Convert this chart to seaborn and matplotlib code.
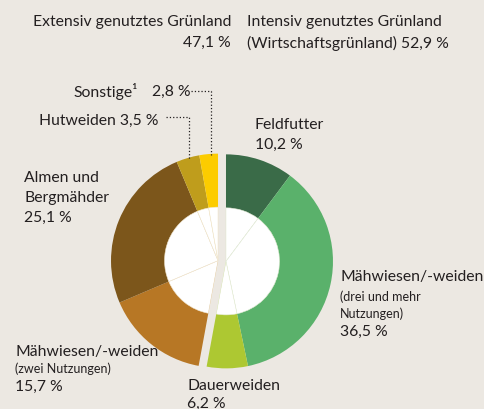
import math
import matplotlib
matplotlib.use("Agg")
import matplotlib.pyplot as plt
import seaborn as sns

# ---------------- DATA ----------------
intensive_labels = ["Feldfutter", "Mähwiesen/-weiden (drei und mehr Nutzungen)", "Dauerweiden"]
intensive_values = [10.2, 36.5, 6.2]
extensive_labels = ["Mähwiesen/-weiden (zwei Nutzungen)", "Almen und Bergmähder", "Hutweiden", "Sonstige"]
extensive_values = [15.7, 25.1, 3.5, 2.8]
group_totals = [47.1, 52.9]

intensive_colors = ["#3a6b48", "#5ab16b", "#adc832"]
extensive_colors = ["#b77725", "#7c561b", "#bf9d1c", "#fccc00"]

BG = "#ece8e2"
TXT = "#231f20"

# ---------------- STYLE ----------------
sns.set_theme(style="white", rc={"figure.facecolor": BG, "axes.facecolor": BG})
plt.rcParams["font.family"] = ["Lato", "DejaVu Sans"]

fig = plt.figure(figsize=(4.84, 4.10), dpi=100)
ax = fig.add_axes([0, 0, 1, 1])

H = 410
cx, cy = 222, H - 262
R = 107
gap = 4

int_frac = sum(intensive_values) / 100
ang_int = math.radians(90 - int_frac * 360 / 2)
ang_ext = ang_int + math.pi
c_int = (cx + gap * math.cos(ang_int), cy + gap * math.sin(ang_int))
c_ext = (cx + gap * math.cos(ang_ext), cy + gap * math.sin(ang_ext))
start_ext = 90 - int_frac * 360

# ---------------- DONUT ----------------
ax.pie([v / 100 for v in intensive_values], colors=intensive_colors, startangle=90,
       counterclock=False, normalize=False, radius=R, center=c_int,
       wedgeprops=dict(linewidth=0), frame=True)
ax.pie([v / 100 for v in extensive_values], colors=extensive_colors, startangle=start_ext,
       counterclock=False, normalize=False, radius=R, center=c_ext,
       wedgeprops=dict(linewidth=0), frame=True)

# white inner part with faint wedge lines
ax.pie([v / 100 for v in intensive_values], colors=["white"] * 3, startangle=90,
       counterclock=False, normalize=False, radius=R * 0.5, center=c_int,
       wedgeprops=dict(linewidth=0.4, edgecolor="#e6ecd8"), frame=True)
ax.pie([v / 100 for v in extensive_values], colors=["white"] * 4, startangle=start_ext,
       counterclock=False, normalize=False, radius=R * 0.5, center=c_ext,
       wedgeprops=dict(linewidth=0.4, edgecolor="#f1e6cf"), frame=True)

ax.set_xlim(0, 484)
ax.set_ylim(0, 410)
ax.set_aspect("equal")
ax.axis("off")

# ---------------- TEXT ----------------
fs = 11.3
sm = 9


def t(x, y, s, size=fs, ha="left"):
    ax.text(x, H - y, s, fontsize=size, color=TXT, ha=ha, va="center")


def pct(v):
    return f"{v:.1f} %".replace(".", ",")


# header
t(231, 22, "Extensiv genutztes Grünland", ha="right")
t(231, 43, pct(group_totals[0]), ha="right")
t(247, 22, "Intensiv genutztes Grünland")
t(247, 43, f"(Wirtschaftsgrünland) {pct(group_totals[1])}")

# segment labels
t(73, 92, "Sonstige¹")
t(152, 92, pct(extensive_values[3]))
t(39, 121, f"Hutweiden {pct(extensive_values[2])}")
t(255, 125, "Feldfutter")
t(255, 145, pct(intensive_values[0]))
t(24, 178, "Almen und")
t(24, 198, "Bergmähder")
t(24, 218, pct(extensive_values[1]))
t(340, 277, "Mähwiesen/-weiden")
t(340, 297, "(drei und mehr", size=sm)
t(340, 314, "Nutzungen)", size=sm)
t(340, 332, pct(intensive_values[1]))
t(15, 352, "Mähwiesen/-weiden")
t(15, 369, "(zwei Nutzungen)", size=sm)
t(15, 387, pct(extensive_values[0]))
t(187, 386, "Dauerweiden")
t(187, 404, pct(intensive_values[2]))

# dotted leader lines
ax.plot([191, 211, 211], [H - 92, H - 92, H - 156], ls=":", lw=0.9, color=TXT)
ax.plot([166, 189, 189], [H - 118, H - 118, H - 160], ls=":", lw=0.9, color=TXT)

fig.savefig("out.png", dpi=100, facecolor=BG)
